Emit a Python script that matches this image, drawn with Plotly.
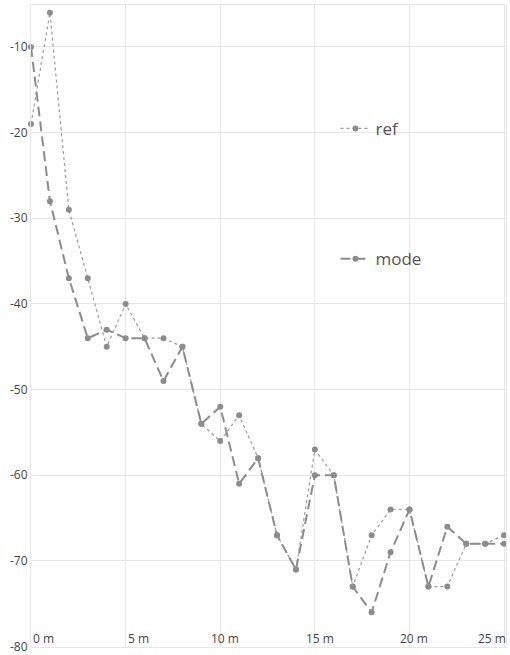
import plotly.graph_objects as go

distance_m = [0, 1, 2, 3, 4, 5, 6, 7, 8, 9, 10, 11, 12, 13, 14, 15, 16, 17, 18, 19, 20, 21, 22, 23, 24, 25]
ref_values = [-19, -6, -29, -37, -45, -40, -44, -44, -45, -54, -56, -53, -58, -67, -71, -57, -60, -73, -67, -64, -64, -73, -73, -68, -68, -67]
mode_values = [-10, -28, -37, -44, -43, -44, -44, -49, -45, -54, -52, -61, -58, -67, -71, -60, -60, -73, -76, -69, -64, -73, -66, -68, -68, -68]

x_tickvals = [0, 5, 10, 15, 20, 25]
x_ticktext = ["0 m", "5 m", "10 m", "15 m", "20 m", "25 m"]
y_tickvals = [-10, -20, -30, -40, -50, -60, -70, -80]
y_ticktext = ["-10", "-20", "-30", "-40", "-50", "-60", "-70", "-80"]

FONT = "Open Sans"
GRID = "#e6e6e6"
TEXT = "#444"

fig = go.Figure()
fig.add_trace(go.Scatter(
    x=distance_m, y=ref_values, name="ref", mode="lines+markers",
    line=dict(color="#9a9a9a", width=1.2, dash="dot"),
    marker=dict(color="#8c8c8c", size=6),
    cliponaxis=False, legend="legend", showlegend=True,
))
fig.add_trace(go.Scatter(
    x=distance_m, y=mode_values, name="mode", mode="lines+markers",
    line=dict(color="#8c8c8c", width=2, dash="10px,5px"),
    marker=dict(color="#8c8c8c", size=6),
    cliponaxis=False, legend="legend2", showlegend=True,
))

# x tick labels, drawn inside the plot just above the bottom axis
n = len(x_tickvals)
for i, (v, t) in enumerate(zip(x_tickvals, x_ticktext)):
    if i < 2:
        anchor, shift = "left", 0
    elif i == n - 1:
        anchor, shift = "right", 4
    else:
        anchor, shift = "center", 5
    fig.add_annotation(x=v, xref="x", y=0, yref="paper", text=t,
                       showarrow=False, xanchor=anchor, yanchor="bottom",
                       xshift=shift, yshift=-2,
                       font=dict(family=FONT, size=12, color=TEXT))

fig.update_layout(
    width=510, height=655,
    showlegend=True,
    margin=dict(l=31, r=4, t=5, b=8, autoexpand=False),
    paper_bgcolor="white", plot_bgcolor="white",
    font=dict(family=FONT, color=TEXT, size=12),
    legend=dict(x=0.641, y=0.807, xanchor="left", yanchor="middle",
                font=dict(size=17, color="#555"), bgcolor="rgba(0,0,0,0)"),
    legend2=dict(x=0.641, y=0.604, xanchor="left", yanchor="middle",
                 font=dict(size=17, color="#555"), bgcolor="rgba(0,0,0,0)",
                 visible=True),
    xaxis=dict(range=[0, 25.1], tickvals=x_tickvals, showticklabels=False,
               showgrid=True, gridcolor=GRID,
               zeroline=False, showline=True, mirror=True, linecolor=GRID,
               ticks="", automargin=False),
    yaxis=dict(range=[-80.05, -5.1], tickvals=y_tickvals, ticktext=y_ticktext,
               showgrid=True, gridcolor=GRID, zeroline=False,
               showline=True, mirror=True, linecolor=GRID, automargin=False,
               ticks="", ticklabelstandoff=0, tickfont=dict(size=12, color=TEXT)),
)

fig.write_html("out.html", config={"displayModeBar": False},
               post_script="document.body.style.margin='0';")
